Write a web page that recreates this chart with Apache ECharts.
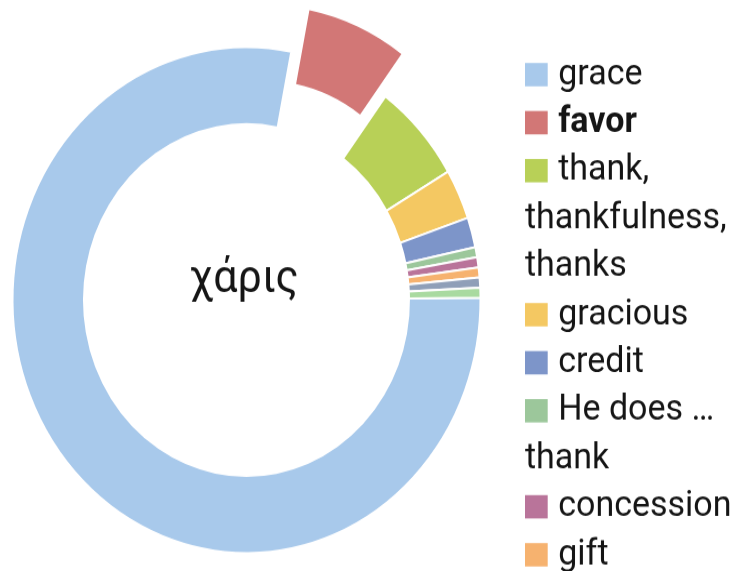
<!DOCTYPE html>
<html><head><meta charset="utf-8">
<script src="https://cdn.jsdelivr.net/npm/echarts@6/dist/echarts.min.js"></script>
<style>
html,body{margin:0;padding:0;background:#fff;overflow:hidden;}
#wrap{width:732px;height:571px;overflow:hidden;}
#chart{width:732px;height:528px;transform:scaleY(1.08144);transform-origin:0 0;}
</style></head><body>
<div id="wrap"><div id="chart"></div></div>
<script>
// ---- data ----
const categories = ['grace', 'favor', 'thank, thankfulness, thanks', 'gracious', 'credit',
  'He does … thank', 'concession', 'gift', 'gracious work', 'blessing'];
const values = [122, 11, 10, 5, 3, 1, 1, 1, 1, 1];
const legendNames = categories.slice(0, 8);
const selectedName = 'favor';
const centerLabel = 'χάρις';
// ---- style ----
const colors = ['#a8c9eb', '#d27776', '#b8d057', '#f4c862', '#7d95c9',
  '#9cc79b', '#b9749a', '#f6b26f', '#8f9fb8', '#a9daa0'];
const FONT = 'Roboto';
const FS = 34, LH = 44.4;

const ctx = document.createElement('canvas').getContext('2d');
function measure(s, bold) { ctx.font = (bold ? 'bold ' : '') + FS + 'px ' + FONT; return ctx.measureText(s).width; }
function wrap(text, firstMax, restMax, bold) {
  const words = text.split(' ');
  const lines = [];
  let cur = '';
  for (const w of words) {
    const cand = cur ? cur + ' ' + w : w;
    const max = lines.length === 0 ? firstMax : restMax;
    if (cur && measure(cand, bold) > max) { lines.push(cur); cur = w; }
    else cur = cand;
  }
  if (cur) lines.push(cur);
  return lines;
}

const rich = {
  gap: { width: 10.5, height: 20, lineHeight: LH },
  t: { fontSize: FS, lineHeight: LH, color: '#151515', fontFamily: FONT },
  b: { fontSize: FS, lineHeight: LH, color: '#151515', fontFamily: FONT, fontWeight: 'bold' }
};
colors.forEach((c, i) => {
  rich['s' + i] = { width: 22.7, height: 21.6, backgroundColor: c, lineHeight: LH, verticalAlign: 'middle' };
});

const chart = echarts.init(document.getElementById('chart'), null, { renderer: 'canvas' });
chart.setOption({
  animation: false,
  legend: {
    orient: 'vertical', left: 519, top: 46.8, padding: 0, itemGap: 0, height: 1500,
    itemWidth: 0, itemHeight: 0, icon: 'rect', selectedMode: false,
    data: legendNames,
    textStyle: { fontSize: FS, lineHeight: LH, fontFamily: FONT, rich: rich },
    formatter: function (name) {
      const i = categories.indexOf(name);
      const bold = name === selectedName;
      const lines = wrap(name, 172, 210, bold);
      const st = bold ? 'b' : 't';
      let s = '{s' + i + '|}{gap|}{' + st + '|' + lines[0] + '}';
      for (let k = 1; k < lines.length; k++) s += '\n{' + st + '|' + lines[k] + '}';
      return s;
    }
  },
  graphic: [{
    type: 'text', x: 244, y: 259,
    style: { text: centerLabel, font: '43px Roboto', fill: '#151515', textAlign: 'center', textVerticalAlign: 'middle' }
  }],
  series: [{
    type: 'pie',
    center: [246.5, 277.4],
    radius: [162.5, 234],
    startAngle: 0.5,
    clockwise: true,
    selectedMode: 'single',
    selectedOffset: 43,
    avoidLabelOverlap: false,
    label: { show: false },
    labelLine: { show: false },
    emphasis: { disabled: true },
    itemStyle: { borderColor: '#fff', borderWidth: 2 },
    data: categories.map((n, i) => ({
      name: n, value: values[i], selected: n === selectedName,
      itemStyle: { color: colors[i] }
    }))
  }]
});
</script>
</body></html>
